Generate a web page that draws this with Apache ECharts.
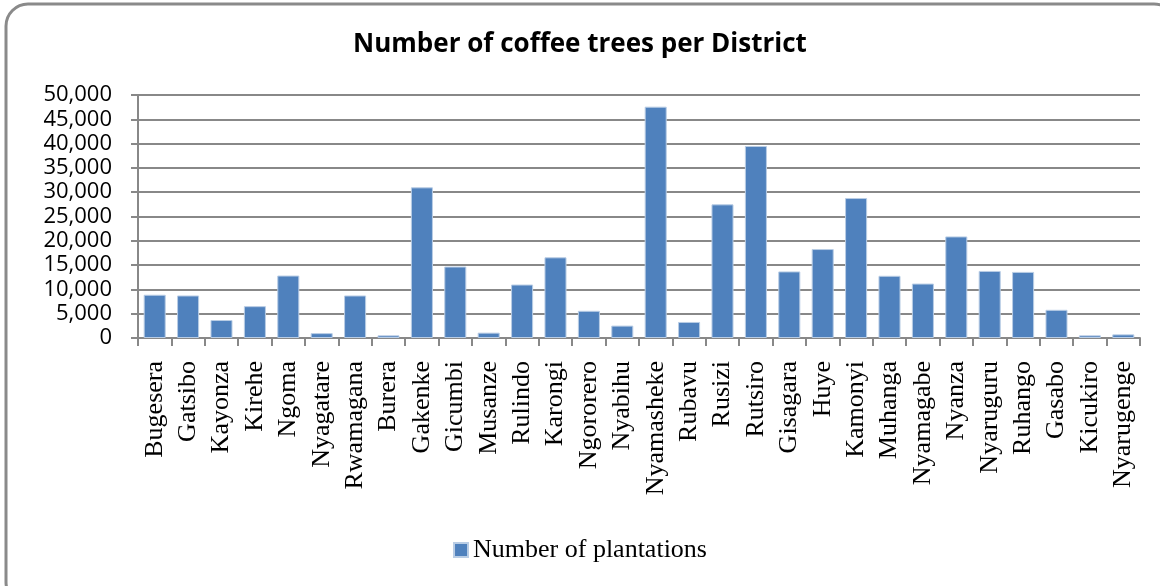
<!DOCTYPE html>
<html>
<head>
<meta charset="utf-8">
<script src="https://cdn.jsdelivr.net/npm/echarts@6/dist/echarts.min.js"></script>
<style>
  html, body { margin: 0; padding: 0; background: #fff; }
  #main { width: 1160px; height: 586px; }
</style>
</head>
<body>
<div id="main"></div>
<script>
// data
var districts = ['Bugesera', 'Gatsibo', 'Kayonza', 'Kirehe', 'Ngoma', 'Nyagatare', 'Rwamagana', 'Burera',
  'Gakenke', 'Gicumbi', 'Musanze', 'Rulindo', 'Karongi', 'Ngororero', 'Nyabihu', 'Nyamasheke', 'Rubavu',
  'Rusizi', 'Rutsiro', 'Gisagara', 'Huye', 'Kamonyi', 'Muhanga', 'Nyamagabe', 'Nyanza', 'Nyaruguru',
  'Ruhango', 'Gasabo', 'Kicukiro', 'Nyarugenge'];
var plantations = [8900, 8750, 3700, 6550, 12850, 1000, 8750, 550,
  31000, 14700, 1100, 11000, 16600, 5600, 2550, 47600, 3300,
  27500, 39500, 13700, 18300, 28800, 12800, 11200, 20900, 13800,
  13600, 5800, 550, 750];
var seriesName = 'Number of plantations';
var chartTitle = 'Number of coffee trees per District';

var chart = echarts.init(document.getElementById('main'));

var option = {
  animation: false,
  title: {
    text: chartTitle,
    left: 'center',
    top: 27,
    textStyle: { fontFamily: 'Open Sans', fontWeight: 'bold', fontSize: 26, color: '#000' }
  },
  legend: {
    bottom: 18,
    left: 'center',
    itemWidth: 14,
    itemHeight: 14,
    itemGap: 4,
    icon: 'rect',
    textStyle: { fontFamily: 'Liberation Serif', fontSize: 26, color: '#000' },
    data: [seriesName]
  },
  grid: { left: 138, right: 20, top: 95, bottom: 248, containLabel: false },
  xAxis: {
    type: 'category',
    data: districts,
    axisLine: { lineStyle: { color: '#888', width: 2 } },
    axisTick: { show: true, length: 8, lineStyle: { color: '#888', width: 2 } },
    axisLabel: {
      rotate: 90, interval: 0, margin: 23,
      fontFamily: 'Liberation Serif', fontSize: 26, color: '#000'
    }
  },
  yAxis: {
    type: 'value',
    min: 0,
    max: 50000,
    interval: 5000,
    axisLine: { show: true, lineStyle: { color: '#888', width: 2 } },
    axisTick: { show: true, length: 7, lineStyle: { color: '#888', width: 2 } },
    splitLine: { lineStyle: { color: '#888', width: 2 } },
    axisLabel: {
      margin: 26,
      fontFamily: 'Open Sans', fontSize: 22, color: '#000',
      formatter: function (v) { return v.toLocaleString('en-US'); }
    }
  },
  series: [{
    name: seriesName,
    type: 'bar',
    data: plantations,
    barCategoryGap: '34%',
    itemStyle: { color: '#4F81BD', borderColor: '#b9cde5', borderWidth: 1 }
  }],
  graphic: [{
    type: 'rect',
    shape: { x: 6, y: 4, width: 1170, height: 600, r: 22 },
    style: { fill: 'none', stroke: '#8a8a8a', lineWidth: 3 },
    silent: true,
    z: -1
  }]
};

chart.setOption(option);
</script>
</body>
</html>
